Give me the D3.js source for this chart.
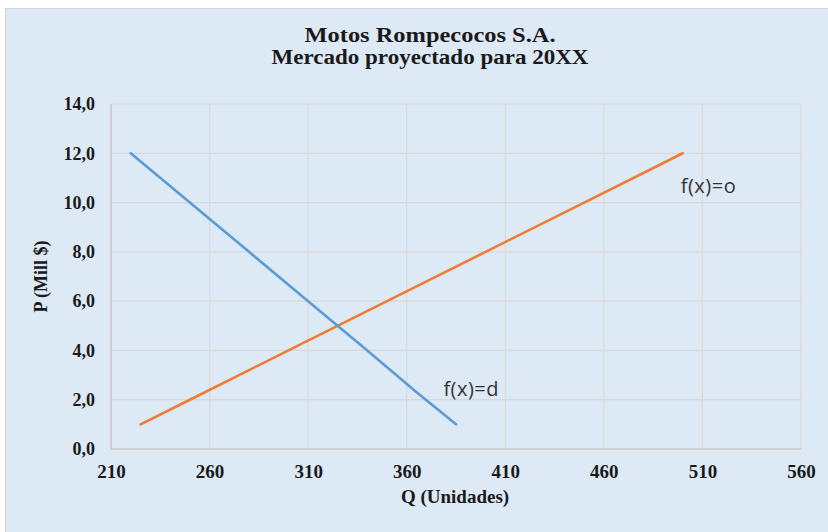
<!DOCTYPE html>
<html><head><meta charset="utf-8">
<script src="https://cdn.jsdelivr.net/npm/d3@7"></script>
<style>body{margin:0;background:#fff;}svg{display:block;}</style>
</head><body>
<script>
const titleLines = ["Motos Rompecocos S.A.", "Mercado proyectado para 20XX"];
const xTicks = [210, 260, 310, 360, 410, 460, 510, 560];
const yTicks = [0, 2, 4, 6, 8, 10, 12, 14];
const demandQ = [220, 250, 280, 310, 340, 365, 385];
const demandP = [12, 10, 8, 6, 4, 2.3, 1];
const supplyQ = [225, 250, 300, 350, 400, 450, 500];
const supplyP = [1, 2, 4, 6, 8, 10, 12];
const demandLabel = "f(x)=d";
const supplyLabel = "f(x)=o";
const xTitle = "Q (Unidades)";
const yTitle = "P (Mill $)";

const W = 828, H = 532;
const svg = d3.select("body").append("svg").attr("width", W).attr("height", H);
svg.append("rect").attr("x", 5.5).attr("y", 8.5).attr("width", W).attr("height", H)
  .attr("fill", "#dde9f5").attr("stroke", "#d4d4d4");

const m = {l: 111, r: 801, t: 104, b: 449};
const x = d3.scaleLinear().domain([210, 560]).range([m.l, m.r]);
const y = d3.scaleLinear().domain([0, 14]).range([m.b, m.t]);

const serif = "'Liberation Serif','Times New Roman',serif";
const fmt = d => d3.format(".1f")(d).replace(".", ",");

// gridlines
const g = svg.append("g");
g.selectAll(".hy").data(yTicks).join("line")
  .attr("x1", m.l).attr("x2", m.r).attr("y1", d => y(d)).attr("y2", d => y(d))
  .attr("stroke", "#d9d9d9").attr("stroke-width", 1.2);
g.selectAll(".vx").data(xTicks).join("line")
  .attr("y1", m.t).attr("y2", m.b).attr("x1", d => x(d)).attr("x2", d => x(d))
  .attr("stroke", "#d9d9d9").attr("stroke-width", 1.2);
// axes lines
svg.append("line").attr("x1", m.l).attr("x2", m.r).attr("y1", m.b).attr("y2", m.b)
  .attr("stroke", "#c8c8c8").attr("stroke-width", 1.5);
svg.append("line").attr("x1", m.l).attr("x2", m.l).attr("y1", m.t).attr("y2", m.b)
  .attr("stroke", "#c8c8c8").attr("stroke-width", 1.5);

// axis ticks with d3 axes (labels only)
const xAxis = svg.append("g").attr("transform", `translate(0,${m.b})`)
  .call(d3.axisBottom(x).tickValues(xTicks).tickSize(0).tickPadding(16).tickFormat(d3.format("d")));
xAxis.select(".domain").remove();
xAxis.selectAll("text").attr("font-family", serif).attr("font-weight", "bold")
  .attr("font-size", 19).attr("fill", "#1a1a1a");
const yAxis = svg.append("g").attr("transform", `translate(${m.l},0)`)
  .call(d3.axisLeft(y).tickValues(yTicks).tickSize(0).tickPadding(16).tickFormat(fmt));
yAxis.select(".domain").remove();
yAxis.selectAll("text").attr("font-family", serif).attr("font-weight", "bold")
  .attr("font-size", 18).attr("fill", "#1a1a1a");

// lines
const line = d3.line().x(d => x(d[0])).y(d => y(d[1]));
svg.append("path").datum(d3.zip(supplyQ, supplyP)).attr("d", line)
  .attr("fill", "none").attr("stroke", "#ed7d31").attr("stroke-width", 2.6).attr("stroke-linecap", "round");
svg.append("path").datum(d3.zip(demandQ, demandP)).attr("d", line)
  .attr("fill", "none").attr("stroke", "#5b9bd5").attr("stroke-width", 2.6).attr("stroke-linecap", "round");

// series labels
const sans = "'Open Sans','Liberation Sans',sans-serif";
svg.append("text").attr("x", x(378.6)).attr("y", y(2.16)).text(demandLabel)
  .attr("font-family", sans).attr("font-size", 20).attr("letter-spacing", 0.5).attr("fill", "#333");
svg.append("text").attr("x", x(499)).attr("y", y(10.4)).text(supplyLabel)
  .attr("font-family", sans).attr("font-size", 20).attr("letter-spacing", 0.5).attr("fill", "#333");

// titles
const titleWidths = [251, 317];
svg.selectAll(".title").data(titleLines).join("text")
  .attr("x", 430).attr("y", (d, i) => 42 + i * 22).attr("text-anchor", "middle")
  .attr("font-family", serif).attr("font-weight", "bold").attr("font-size", 20)
  .attr("textLength", (d, i) => titleWidths[i]).attr("lengthAdjust", "spacingAndGlyphs")
  .attr("fill", "#1a1a1a").text(d => d);
svg.append("text").attr("x", 455).attr("y", 503).attr("text-anchor", "middle")
  .attr("font-family", serif).attr("font-weight", "bold").attr("font-size", 19)
  .attr("fill", "#1a1a1a").text(xTitle);
svg.append("text").attr("transform", `translate(47,${(m.t + m.b) / 2}) rotate(-90)`)
  .attr("text-anchor", "middle")
  .attr("font-family", serif).attr("font-weight", "bold").attr("font-size", 18)
  .attr("fill", "#1a1a1a").text(yTitle);
</script>
</body></html>
